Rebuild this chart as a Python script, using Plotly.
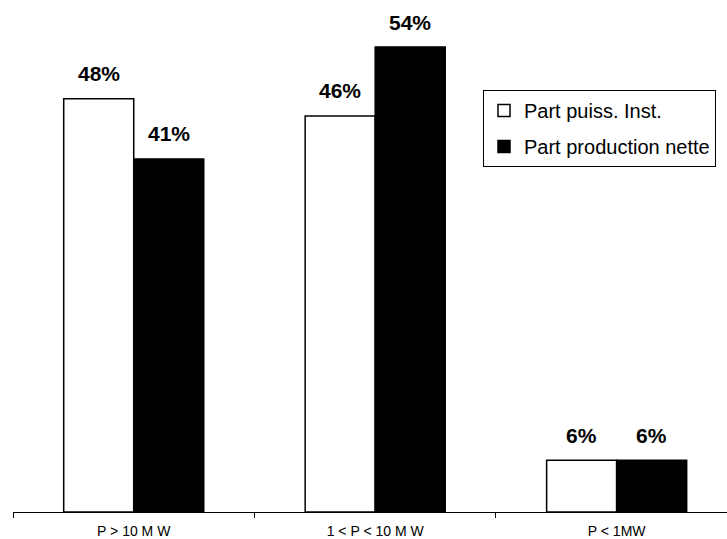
import plotly.graph_objects as go

# Share of installed capacity vs. share of net production, by plant size
categories = ["P > 10 M W", "1 < P < 10 M W", "P < 1MW"]
part_puissance = [48, 46, 6]
part_production = [41, 54, 6]
series_names = ["Part puiss. Inst.", "Part production nette"]

BAR_W = 0.29
FONT = "Arial, Liberation Sans, sans-serif"

fig = go.Figure()
fig.add_trace(go.Bar(
    x=categories, y=part_puissance, name=series_names[0],
    legendgroup="puissance",
    width=BAR_W, offset=-BAR_W,
    marker=dict(color="white", line=dict(color="black", width=1.5)),
))
fig.add_trace(go.Bar(
    x=categories, y=part_production, name=series_names[1],
    legendgroup="production",
    width=BAR_W, offset=0,
    marker=dict(color="black", line=dict(color="black", width=1.5)),
))

# Percentage labels above each bar
for i, (a, b) in enumerate(zip(part_puissance, part_production)):
    for xpos, val in ((i - BAR_W / 2, a), (i + BAR_W / 2, b)):
        fig.add_annotation(
            x=xpos, y=val, xref="x", yref="y",
            text=f"<b>{val}%</b>", showarrow=False,
            yanchor="middle", yshift=25,
            font=dict(family=FONT, size=21, color="black"),
        )

fig.update_layout(
    width=727, height=539,
    margin=dict(l=13, r=0, t=0, b=27),
    paper_bgcolor="white", plot_bgcolor="white",
    barmode="group",
    showlegend=True,
    legend=dict(
        x=(483 - 13) / 714, y=(512 - 90) / 512,
        xanchor="left", yanchor="top",
        bordercolor="black", borderwidth=1,
        tracegroupgap=7,
        font=dict(family=FONT, size=20, color="black"),
        bgcolor="white",
    ),
    xaxis=dict(
        type="category",
        range=[-0.5, 2.457],
        showline=True, linecolor="black", linewidth=1,
        ticks="outside", tickson="boundaries", ticklen=5,
        tickcolor="black", ticklabelstandoff=6,
        showgrid=False, zeroline=False,
        tickfont=dict(family=FONT, size=14, color="black"),
    ),
    yaxis=dict(
        range=[0, 59.46], visible=False,
        showgrid=False, zeroline=False,
    ),
)

fig.write_html("out.html")
